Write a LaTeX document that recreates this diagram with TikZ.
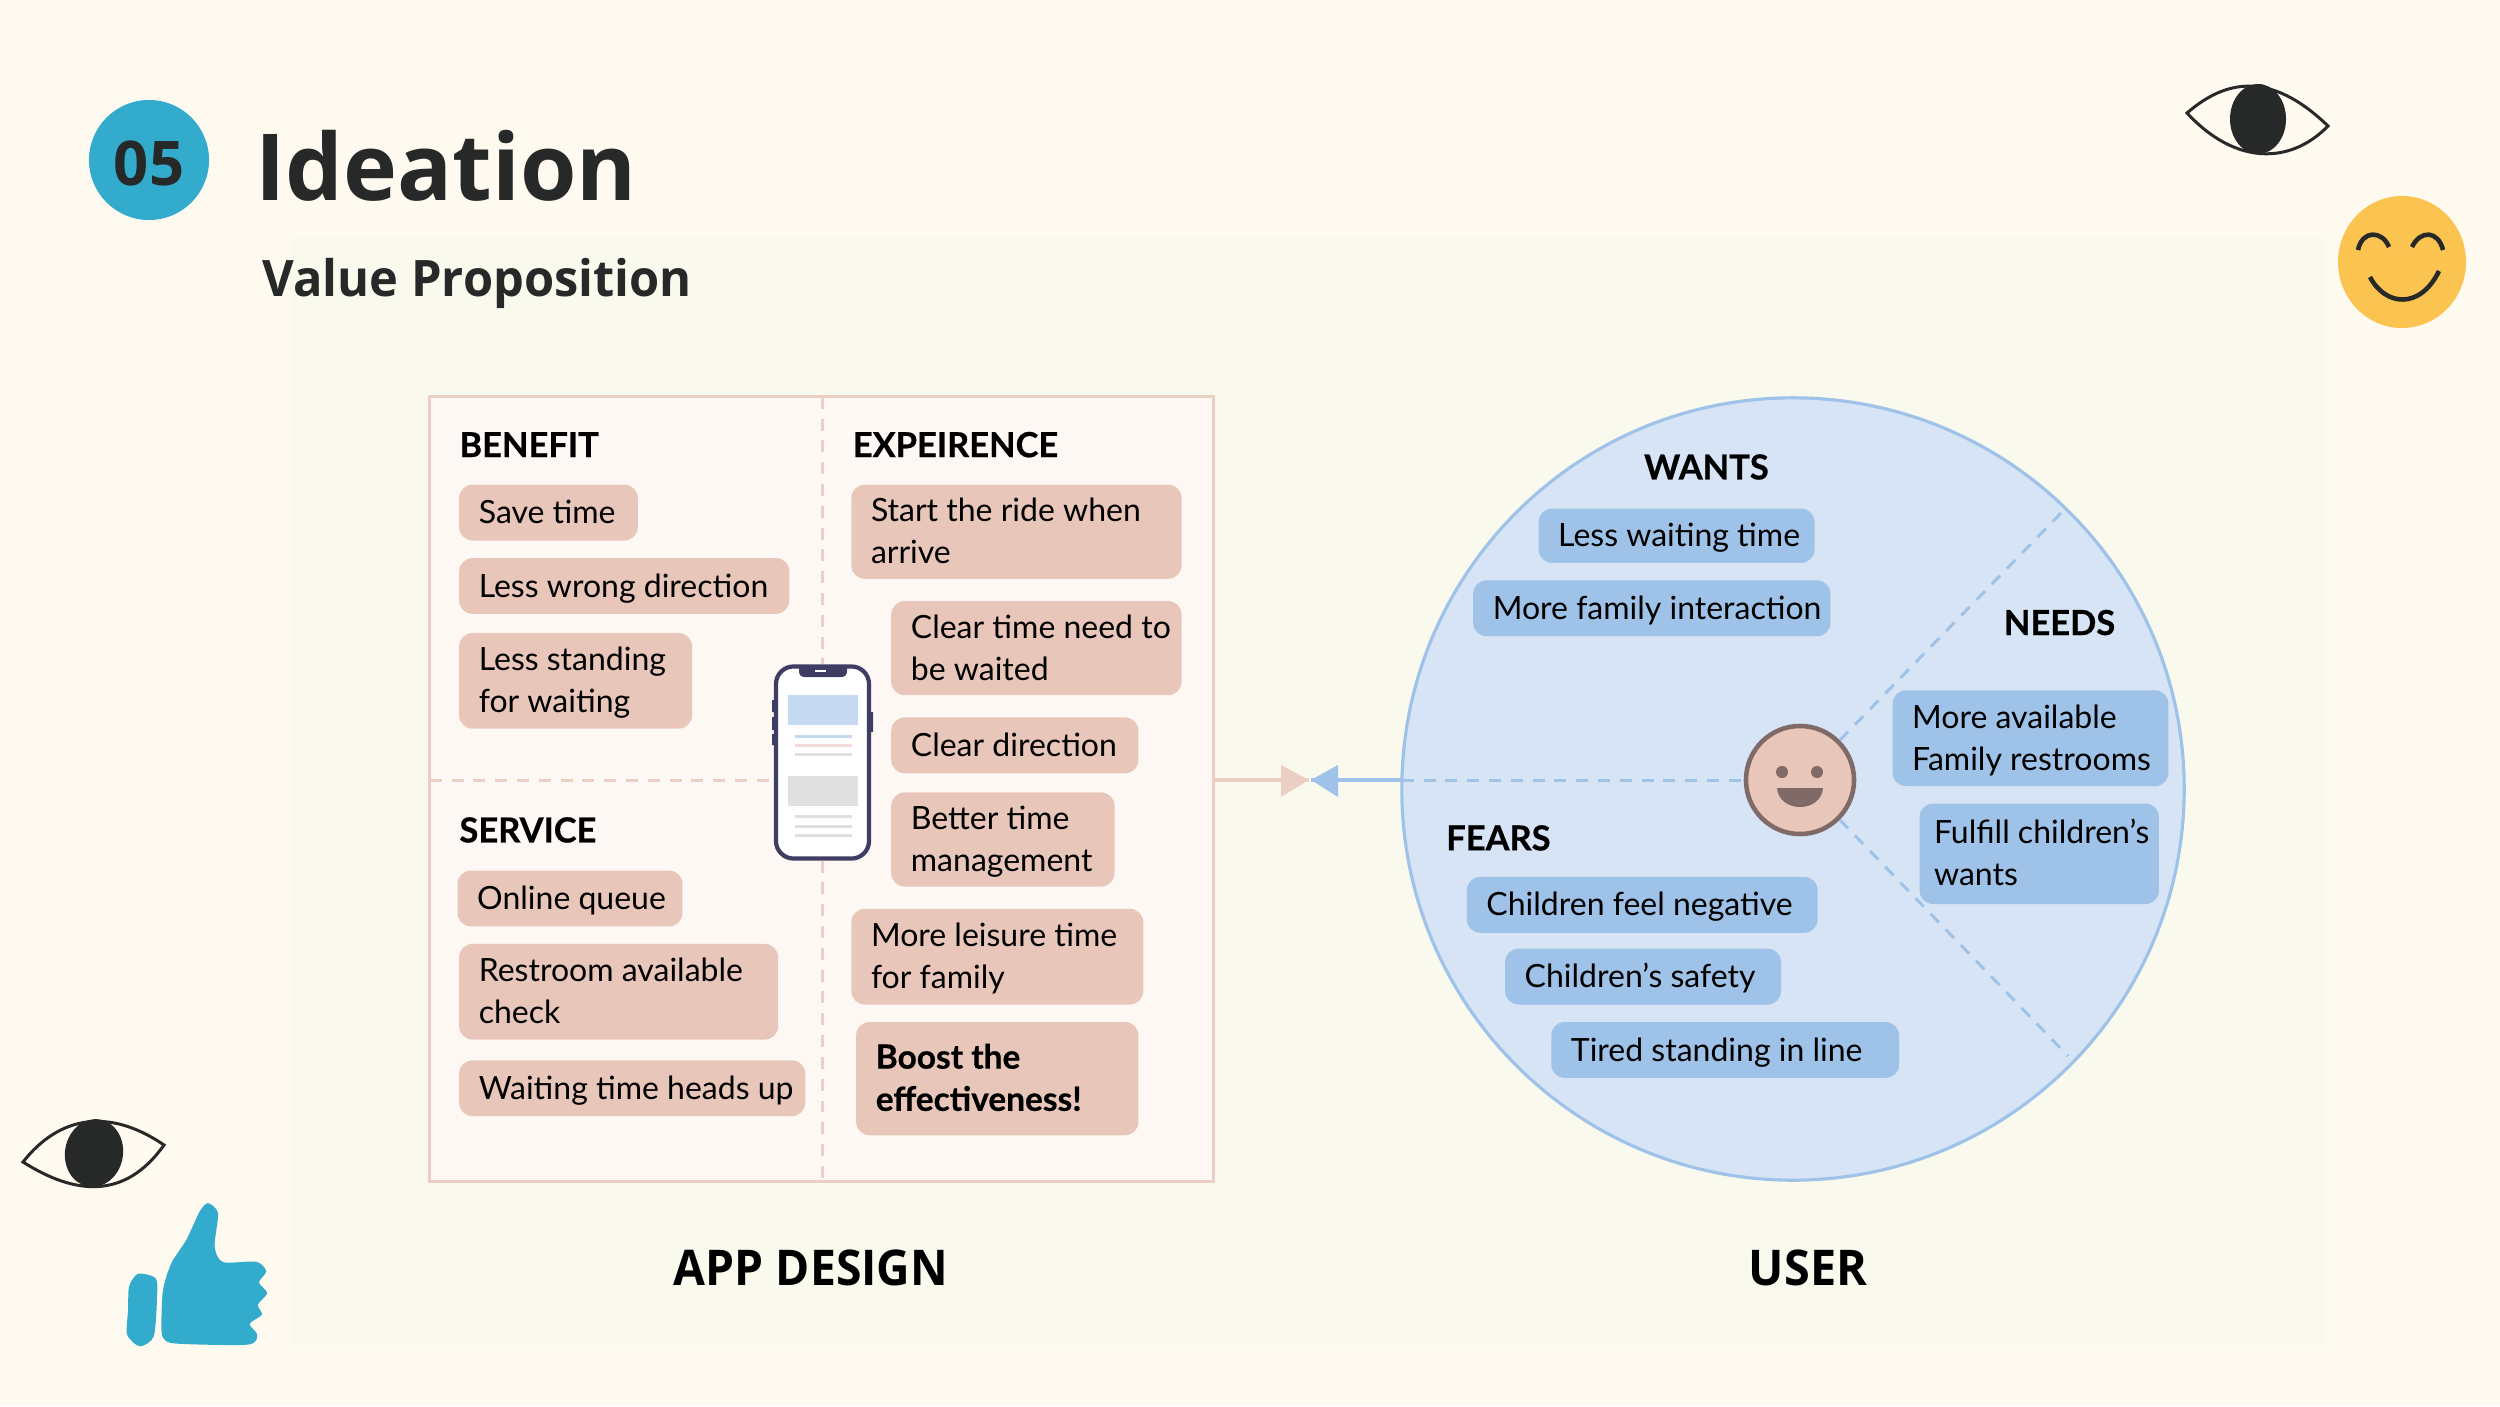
\documentclass[tikz,border=0pt]{standalone}
\usepackage{fontspec}
\setmainfont{Lato}
\newfontfamily\headfont{Open Sans}
\newfontfamily\heavyfont[BoldFeatures={FakeBold=0.6}]{Lato}
\definecolor{bgpage}{HTML}{FEFAF0}
\definecolor{bginner}{HTML}{FAF9EE}
\definecolor{ink}{HTML}{272928}
\definecolor{teal}{HTML}{33ABCC}
\definecolor{sun}{HTML}{FBC34F}
\definecolor{pinkfill}{HTML}{E8C7BA}
\definecolor{pinkline}{HTML}{EBCFC4}
\definecolor{panelfill}{HTML}{FEF8F4}
\definecolor{bluefill}{HTML}{9FC2E8}
\definecolor{circfill}{HTML}{D6E4F6}
\definecolor{phoneink}{HTML}{3F3D63}
\definecolor{faceink}{HTML}{7F6A68}
\tikzset{
  tagbox/.style={rounded corners=3.8pt,inner sep=0pt,outer sep=0pt,font=\fontsize{9.1pt}{12pt}\selectfont,text=black},
  heading/.style={inner sep=0pt,outer sep=0pt,anchor=base west,font=\heavyfont\fontsize{9.8pt}{12pt}\selectfont\bfseries,text=black},
  caption/.style={inner sep=0pt,outer sep=0pt,anchor=base,font=\headfont\fontsize{14pt}{17pt}\selectfont\bfseries,text=black},
  pinkdash/.style={draw=pinkline,line width=0.85pt,dash pattern=on 3.4pt off 2.8pt},
  bluedash/.style={draw=bluefill,line width=0.85pt,dash pattern=on 3.4pt off 2.8pt},
  eyeline/.style={draw=ink,line width=0.85pt,fill=bgpage,line join=miter},
  smileline/.style={draw=ink,line width=1.3pt},
}
% name, left, top, right, bottom (in 1568-wide units), fill, text
\newcommand{\tagnode}[7]{%
  \pgfmathsetmacro{\tw}{(#4-#2)*0.4536}%
  \pgfmathsetmacro{\th}{(#5-#3)*0.4536}%
  \pgfmathsetmacro{\tx}{((#2+#4)/2)*1.5944}%
  \pgfmathsetmacro{\ty}{((#3+#5)/2)*1.5944}%
  \pgfmathsetmacro{\ti}{(#4-#2-24)*0.4536}%
  \node[tagbox,fill=#6,minimum width=\tw pt,minimum height=\th pt] (#1) at (\tx,\ty) {\raisebox{0pt}[\dimexpr\height+1.5pt\relax]{\makebox[\ti pt][l]{\hspace*{0.15pt}\begin{tabular}[c]{@{}l@{}}#7\end{tabular}}}};%
}
\begin{document}
\begin{tikzpicture}[x=0.01cm,y=-0.01cm]
\useasboundingbox (0,0) rectangle (2500,1406);
\fill[bgpage] (0,0) rectangle (2500,1406);
\fill[bginner] (290,236) rectangle (2325,1345);

% header
\node[circle,fill=teal,minimum size=120*0.2845pt,inner sep=0pt] (badge) at (149,160) {};
\node[font=\headfont\fontsize{17.5pt}{20pt}\selectfont\bfseries,text=ink,inner sep=0pt] (num) at (149,163) {05};
\node[anchor=base west,inner sep=0pt,font=\headfont\fontsize{26.3pt}{30pt}\selectfont\bfseries,text=ink] (title) at (255,200) {\scalebox{0.987}[1]{Ideation}};
\node[anchor=base west,inner sep=0pt,font=\headfont\fontsize{14.3pt}{17pt}\selectfont\bfseries,text=ink] (sub) at (262,296) {\scalebox{0.97}[1]{Value Proposition}};

% decorations
\draw[eyeline] (2187,113) .. controls (2225,80) and (2270,70) .. (2328,126) .. controls (2290,165) and (2235,165) .. cycle;
\fill[ink] (2258,119) ellipse[x radius=28,y radius=35];
\fill[sun] (2402,262) ellipse[x radius=64,y radius=66];
\draw[smileline] (2358,250) .. controls (2362,230) and (2382,230) .. (2389,247);
\draw[smileline] (2412,247) .. controls (2420,230) and (2438,230) .. (2443,250);
\draw[smileline] (2370,277) .. controls (2385,306) and (2420,310) .. (2439,271);
\draw[eyeline] (23,1162) .. controls (60,1115) and (110,1108) .. (164,1145) .. controls (125,1200) and (75,1195) .. cycle;
\fill[ink,rotate around={-10:(94,1153)}] (94,1153) ellipse[x radius=29,y radius=34];
\begin{scope}[shift={(0,1090)},x=0.00333cm,y=-0.00333cm]
\fill[teal] plot[smooth cycle,tension=0.45] coordinates {(388,590) (415,552) (468,566) (472,620) (462,740) (420,770) (382,735) (385,660)};
\fill[teal] plot[smooth cycle,tension=0.45] coordinates {(485,700) (490,600) (515,520) (560,450) (600,365) (625,340) (655,370) (645,470) (670,517) (770,516) (800,545) (778,578) (803,610) (775,645) (787,675) (750,703) (773,735) (745,765) (530,762) (490,745)};
\end{scope}

% panel
\node[rectangle,draw=pinkline,line width=0.9pt,fill=panelfill,minimum width=783*0.2845pt,minimum height=784*0.2845pt,inner sep=0pt,outer sep=0pt] (panel) at (821.5,789) {};
\coordinate (pinktip) at (1309,780);
\coordinate (bluetip) at (1311,780);
\node[circle,draw=bluefill,line width=0.9pt,fill=circfill,minimum size=782*0.2845pt,inner sep=0pt,outer sep=0pt] (user) at (1793,789) {};

% phone
\node[rectangle,rounded corners=5pt,draw=phoneink,line width=1.2pt,fill=white,minimum width=93*0.2845pt,minimum height=192*0.2845pt,inner sep=0pt,outer sep=0.6pt] (phone) at (822.5,762.5) {};
\draw[pinkdash] (panel.west |- pinktip) -- (phone.west |- pinktip);
\draw[pinkdash] (phone.north |- panel.north) -- (phone.north);
\draw[pinkdash] (phone.south) -- (phone.south |- panel.south);
\fill[phoneink] (799,665) -- (847,665) -- (847,671) .. controls (847,675) and (845,677) .. (841,677) -- (805,677) .. controls (801,677) and (799,675) .. (799,671) -- cycle;
\fill[white] (815,670) rectangle (826,672);
\fill[phoneink] (772,700) rectangle (775,712) (772,717) rectangle (775,730) (772,734) rectangle (775,745) (870,712) rectangle (873,732);
\fill[bluefill!60] (788,695) rectangle (858,725);
\fill[bluefill!60] (795,735) rectangle (852,738);
\fill[pinkline!70] (795,744) rectangle (852,747);
\fill[black!12] (795,753) rectangle (852,756);
\fill[black!12] (788,776) rectangle (858,806);
\fill[black!12] (795,815) rectangle (852,818) (795,825) rectangle (852,828) (795,834) rectangle (852,837);

% face
\node[circle,draw=faceink,line width=1.3pt,fill=pinkfill,minimum size=108*0.2845pt,inner sep=0pt,outer sep=0.6pt] (face) at (1800,780) {};
\fill[faceink] (1782,772) circle[radius=6] (1817,772) circle[radius=6];
\fill[faceink] (1777,788) -- (1823,788) .. controls (1822,800) and (1812,807) .. (1800,807) .. controls (1788,807) and (1778,800) .. (1777,788) -- cycle;

% connectors
\draw[draw=pinkline,line width=1.1pt] (panel.east |- pinktip) -- (pinktip);
\fill[pinkline] (pinktip) -- (1281,765) -- (1281,797) -- cycle;
\draw[draw=bluefill,line width=1.1pt] (user.west |- bluetip) -- (bluetip);
\fill[bluefill] (bluetip) -- (1338,765) -- (1338,797) -- cycle;
\draw[bluedash] (user.west |- face.west) -- (face.west);
\coordinate (needsend) at (2062,512);
\coordinate (fearsend) at (2068,1056);
\draw[bluedash] (face.45) -- (needsend);
\draw[bluedash] (face.-45) -- (fearsend);

% headings
\begin{scope}[x=0.015944cm,y=-0.015944cm]
\node[heading] (hbenefit) at (288,286.5) {BENEFIT};
\node[heading] (hexp) at (534.5,286.5) {EXPEIRENCE};
\node[heading] (hservice) at (288,528) {SERVICE};
\node[heading] (hwants) at (1030.5,300.5) {WANTS};
\node[heading] (hneeds) at (1256,398) {NEEDS};
\node[heading] (hfears) at (906.5,533) {FEARS};
\end{scope}
\tagnode{a1}{288}{304}{400}{339}{pinkfill}{Save time}
\tagnode{a2}{288}{350}{495}{385}{pinkfill}{Less wrong direction}
\tagnode{a3}{288}{397}{434}{457}{pinkfill}{Less standing\\for waiting}
\tagnode{a4}{287}{546}{428}{581}{pinkfill}{Online queue}
\tagnode{a5}{288}{592}{488}{652}{pinkfill}{Restroom available\\check}
\tagnode{a6}{288}{665}{505}{700}{pinkfill}{Waiting time heads up}
\tagnode{b1}{534}{304}{741}{363}{pinkfill}{Start the ride when\\arrive}
\tagnode{b2}{559}{377}{741}{436}{pinkfill}{Clear time need to\\be waited}
\tagnode{b3}{559}{450}{714}{485}{pinkfill}{Clear direction}
\tagnode{b4}{559}{497}{699}{556}{pinkfill}{Better time\\management}
\tagnode{b5}{534}{570}{717}{630}{pinkfill}{More leisure time\\for family}
\tagnode{b6}{537}{641}{714}{712}{pinkfill}{\heavyfont\fontsize{9.5pt}{12pt}\selectfont\bfseries Boost the\\\heavyfont\fontsize{9.5pt}{12pt}\selectfont\bfseries effectiveness!}
\tagnode{w1}{965}{319}{1138}{353}{bluefill}{Less waiting time}
\tagnode{w2}{924}{364}{1148}{399}{bluefill}{More family interaction}
\tagnode{n1}{1187}{433}{1360}{493}{bluefill}{More available\\Family restrooms}
\tagnode{n2}{1204}{504}{1354}{567}{bluefill}{\hspace*{-1.5pt}Fulfill children’s\\\hspace*{-1.5pt}wants}
\tagnode{f1}{920}{550}{1140}{585}{bluefill}{Children feel negative}
\tagnode{f2}{944}{595}{1117}{630}{bluefill}{Children’s safety}
\tagnode{f3}{973}{641}{1191}{676}{bluefill}{Tired standing in line}

\node[caption] (capapp) at (811,1285) {\scalebox{0.94}[1]{APP DESIGN}};
\node[caption] (capuser) at (1808,1285) {\scalebox{0.95}[1]{USER}};
\end{tikzpicture}
\end{document}
